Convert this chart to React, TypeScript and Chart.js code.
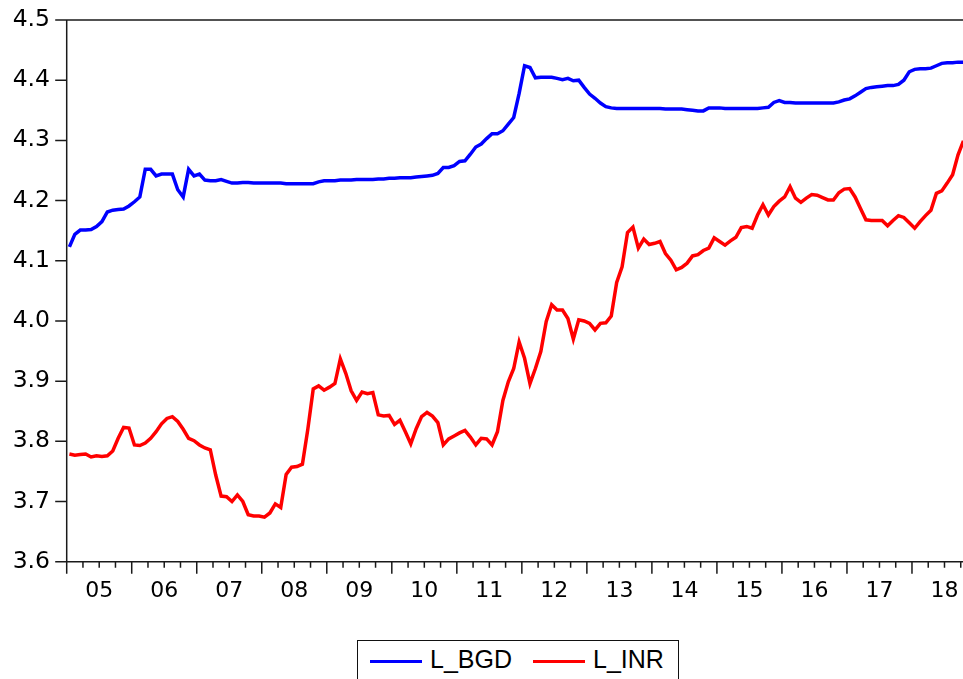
import React, { useEffect, useRef } from 'react';
import { Chart, registerables } from 'chart.js';

Chart.register(...registerables);

// Monthly observations, January 2005 onwards
const START_YEAR = 2005;
const YEAR_LABELS = ['05', '06', '07', '08', '09', '10', '11', '12', '13', '14', '15', '16', '17', '18'];
const Y_MIN = 3.6;
const Y_MAX = 4.5;
const Y_STEP = 0.1;

const L_BGD = [
  4.123, 4.144, 4.151, 4.151, 4.152, 4.157, 4.165, 4.181, 4.184, 4.185, 4.186, 4.191,
  4.198, 4.206, 4.252, 4.252, 4.241, 4.244, 4.244, 4.244, 4.218, 4.206, 4.252, 4.241,
  4.244, 4.234, 4.233, 4.233, 4.235, 4.232, 4.229, 4.229, 4.230, 4.230, 4.229, 4.229,
  4.229, 4.229, 4.229, 4.229, 4.228, 4.228, 4.228, 4.228, 4.228, 4.228, 4.231, 4.233,
  4.233, 4.233, 4.234, 4.234, 4.234, 4.235, 4.235, 4.235, 4.235, 4.236, 4.236, 4.237,
  4.237, 4.238, 4.238, 4.238, 4.239, 4.240, 4.241, 4.242, 4.245, 4.255, 4.255, 4.258,
  4.265, 4.266, 4.277, 4.289, 4.294, 4.303, 4.311, 4.311, 4.316, 4.327, 4.338, 4.378,
  4.424, 4.421, 4.404, 4.405, 4.405, 4.405, 4.403, 4.401, 4.403, 4.399, 4.400, 4.388,
  4.377, 4.370, 4.362, 4.356, 4.354, 4.353, 4.353, 4.353, 4.353, 4.353, 4.353, 4.353,
  4.353, 4.353, 4.352, 4.352, 4.352, 4.352, 4.351, 4.350, 4.349, 4.349, 4.354, 4.354,
  4.354, 4.353, 4.353, 4.353, 4.353, 4.353, 4.353, 4.353, 4.354, 4.355, 4.363, 4.366,
  4.363, 4.363, 4.362, 4.362, 4.362, 4.362, 4.362, 4.362, 4.362, 4.362, 4.364, 4.367,
  4.369, 4.374, 4.380, 4.386, 4.388, 4.389, 4.390, 4.391, 4.391, 4.393, 4.400, 4.414,
  4.418, 4.419, 4.419, 4.420, 4.424, 4.428, 4.429, 4.429, 4.430, 4.430,
];

const L_INR = [
  3.779, 3.777, 3.778, 3.779, 3.774, 3.776, 3.775, 3.776, 3.784, 3.805, 3.823, 3.822,
  3.794, 3.793, 3.797, 3.805, 3.816, 3.829, 3.838, 3.841, 3.833, 3.820, 3.805, 3.801,
  3.794, 3.789, 3.786, 3.744, 3.709, 3.708, 3.700, 3.711, 3.700, 3.678, 3.676, 3.676,
  3.674, 3.681, 3.696, 3.690, 3.745, 3.757, 3.758, 3.762, 3.820, 3.887, 3.892, 3.885,
  3.890, 3.896, 3.937, 3.913, 3.884, 3.868, 3.882, 3.879, 3.881, 3.844, 3.842, 3.843,
  3.828, 3.835, 3.816, 3.796, 3.821, 3.841, 3.848, 3.842, 3.831, 3.794, 3.804, 3.809,
  3.814, 3.818, 3.807, 3.794, 3.805, 3.804, 3.794, 3.816, 3.868, 3.899, 3.921, 3.965,
  3.938, 3.896, 3.921, 3.949, 3.999, 4.027, 4.018, 4.018, 4.004, 3.970, 4.002, 4.000,
  3.996, 3.985, 3.996, 3.997, 4.008, 4.064, 4.090, 4.147, 4.156, 4.121, 4.136, 4.127,
  4.129, 4.132, 4.112, 4.101, 4.085, 4.089, 4.096, 4.108, 4.110, 4.117, 4.121, 4.138,
  4.132, 4.126, 4.133, 4.139, 4.155, 4.157, 4.154, 4.176, 4.193, 4.176, 4.190, 4.199,
  4.206, 4.223, 4.204, 4.197, 4.204, 4.210, 4.209, 4.205, 4.201, 4.201, 4.213, 4.219,
  4.220, 4.206, 4.187, 4.168, 4.167, 4.167, 4.167, 4.158, 4.167, 4.175, 4.172, 4.163,
  4.154, 4.165, 4.175, 4.184, 4.212, 4.216, 4.229, 4.243, 4.276, 4.299,
];

const TICK_FONT = '"DejaVu Sans", "Liberation Sans", Arial, sans-serif';
const LEGEND_FONT = '"Liberation Sans", Arial, sans-serif';
const AXIS_COLOR = '#1a1a1a';
const SERIES_WIDTH = 3.5;

// place each observation in the middle of its month
const monthX = (i: number) => START_YEAR + (i + 0.5) / 12;

// frame and tick marks: long ticks at year boundaries, short ticks at quarters
const framePlugin = {
  id: 'frame',
  afterDraw(chart: any) {
    const { ctx, chartArea: a, scales } = chart;
    const xs = scales.x;
    const ys = scales.y;
    ctx.save();
    ctx.strokeStyle = AXIS_COLOR;
    ctx.lineWidth = 1.5;
    ctx.beginPath();
    ctx.rect(a.left, a.top, a.right - a.left, a.bottom - a.top);
    ys.ticks.forEach((t: any) => {
      const py = ys.getPixelForValue(t.value);
      ctx.moveTo(a.left - 11.5, py);
      ctx.lineTo(a.left, py);
    });
    const lastYear = START_YEAR + YEAR_LABELS.length;
    for (let q = START_YEAR * 4; q <= lastYear * 4; q++) {
      const px = xs.getPixelForValue(q / 4);
      const len = q % 4 === 0 ? 12 : 6;
      ctx.moveTo(px, a.bottom);
      ctx.lineTo(px, a.bottom + len);
    }
    ctx.stroke();
    ctx.restore();
  },
};

export default function App() {
  const canvasRef = useRef<HTMLCanvasElement | null>(null);

  useEffect(() => {
    const canvas = canvasRef.current;
    if (!canvas) return;
    const chart = new Chart(canvas, {
      type: 'line',
      data: {
        datasets: [
          {
            label: 'L_BGD',
            data: L_BGD.map((v, i) => ({ x: monthX(i), y: v })),
            borderColor: '#0000ff',
            borderWidth: SERIES_WIDTH,
            pointRadius: 0,
            tension: 0,
            fill: false,
          },
          {
            label: 'L_INR',
            data: L_INR.map((v, i) => ({ x: monthX(i), y: v })),
            borderColor: '#ff0000',
            borderWidth: SERIES_WIDTH,
            pointRadius: 0,
            tension: 0,
            fill: false,
          },
        ],
      },
      options: {
        responsive: false,
        animation: false,
        layout: { padding: { top: 20, right: 3, left: 0, bottom: 0 } },
        plugins: { legend: { display: false }, tooltip: { enabled: false } },
        scales: {
          x: {
            type: 'linear',
            min: START_YEAR,
            max: START_YEAR + YEAR_LABELS.length,
            grid: { display: false, drawTicks: false },
            border: { display: false },
            afterBuildTicks: (s: any) => {
              s.ticks = YEAR_LABELS.map((_, k) => ({ value: START_YEAR + k + 0.5 }));
            },
            afterFit: (s: any) => {
              s.height = 117.3;
              s.paddingLeft = 0;
              s.paddingRight = 0;
            },
            ticks: {
              autoSkip: false,
              maxRotation: 0,
              minRotation: 0,
              padding: 16,
              color: '#000',
              font: { family: TICK_FONT, size: 22 },
              callback: (_v: any, idx: number) => YEAR_LABELS[idx],
            },
          },
          y: {
            min: Y_MIN,
            max: Y_MAX,
            grid: { display: false, drawTicks: false },
            border: { display: false },
            afterFit: (s: any) => {
              s.width = 66.7;
              s.paddingTop = 0;
              s.paddingBottom = 0;
            },
            ticks: {
              stepSize: Y_STEP,
              padding: 16.7,
              color: '#000',
              font: { family: TICK_FONT, size: 23.5 },
              callback: (v: any) => Number(v).toFixed(1),
            },
          },
        },
      },
      plugins: [framePlugin],
    });
    return () => chart.destroy();
  }, []);

  const textStyle: React.CSSProperties = {
    position: 'absolute',
    fontFamily: LEGEND_FONT,
    fontSize: 25,
    lineHeight: '25px',
    color: '#000',
    whiteSpace: 'nowrap',
  };

  return (
    <div
      style={{
        position: 'fixed',
        left: 0,
        top: 0,
        width: 963,
        height: 679,
        overflow: 'hidden',
        background: '#fff',
      }}
    >
      <canvas
        ref={canvasRef}
        width={980}
        height={679}
        style={{ position: 'absolute', left: 0, top: 0, width: 980, height: 679 }}
      />
      <div
        style={{
          position: 'absolute',
          left: 357,
          top: 640,
          width: 322,
          height: 60,
          border: '1px solid #111',
          boxSizing: 'border-box',
          background: '#fff',
        }}
      >
        <div style={{ position: 'absolute', left: 12, top: 19, width: 52, height: 3, background: '#0000ff' }} />
        <span style={{ ...textStyle, left: 72, top: 6 }}>L_BGD</span>
        <div style={{ position: 'absolute', left: 175, top: 19, width: 52, height: 3, background: '#ff0000' }} />
        <span style={{ ...textStyle, left: 235, top: 6 }}>L_INR</span>
      </div>
    </div>
  );
}
